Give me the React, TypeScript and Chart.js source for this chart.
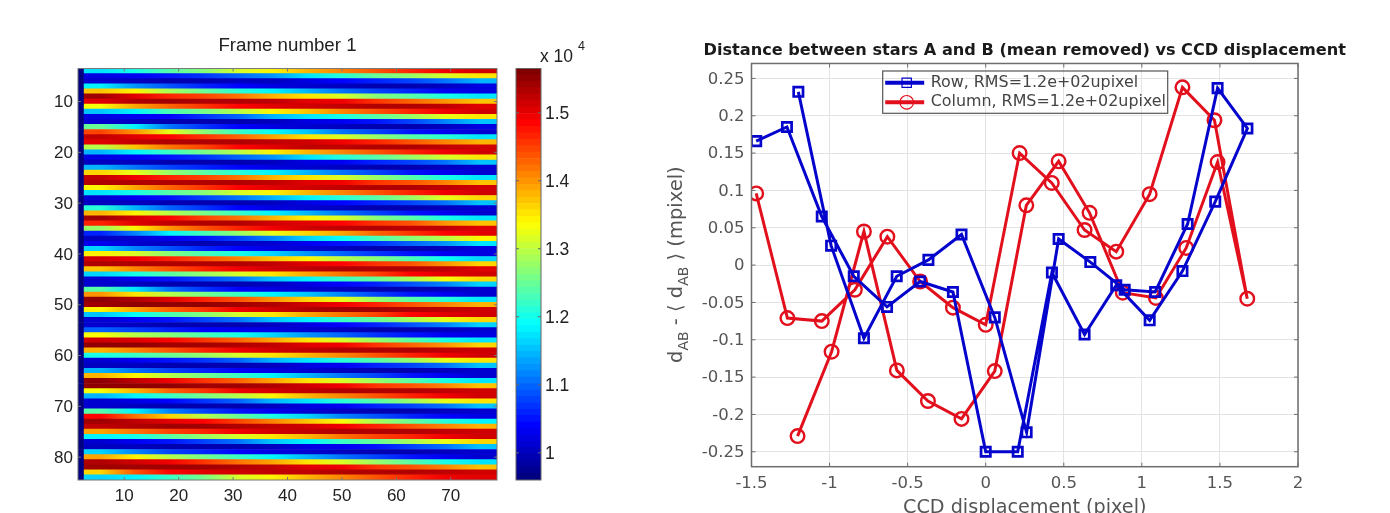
import React, { useEffect, useRef } from "react";
import { Chart, registerables } from "chart.js";
import { drawPoint } from "chart.js/helpers";

Chart.register(...registerables);

// ---------- Left panel data (values in units of 1e2, colour scale x 10^4 / 100) ----------
const edgeColumnRange = [1.5, 2.5];
const edgeColumnValue = [96];
const stripeRange = [2.5, 78.5];
const anchorColumns = [5.7, 12, 18.3, 24.7, 31, 37.3, 43.7, 50, 56.3, 62.7, 69, 75.3];
const frameRows = [
  [117,120,124,127,131,134,138,141,144,147,149,151],
  [102,103,105,107,110,113,117,121,125,128,131,135],
  [101,100,99,99,100,100,102,104,106,108,111,114],
  [118,113,109,106,104,102,101,100,99,99,100,102],
  [137,134,129,125,121,118,114,111,108,106,103,102],
  [154,150,147,145,142,138,135,131,127,124,120,117],
  [150,153,154,153,153,152,150,149,146,143,140,137],
  [133,139,143,146,148,150,151,152,153,153,152,150],
  [115,118,123,126,130,134,137,141,144,147,149,151],
  [102,103,104,107,110,114,117,120,124,128,132,135],
  [101,100,99,99,99,100,102,103,105,108,112,115],
  [125,118,111,107,104,102,101,100,99,99,100,102],
  [145,140,132,127,122,119,115,111,108,105,103,101],
  [152,150,148,146,143,139,135,131,128,124,121,117],
  [150,152,153,153,153,152,151,149,147,144,141,138],
  [130,137,142,145,148,150,152,152,153,153,152,151],
  [114,118,122,126,130,134,138,141,144,147,149,151],
  [102,103,105,107,110,113,117,121,124,128,131,135],
  [100,100,99,99,99,100,102,103,106,108,111,115],
  [114,111,108,106,104,102,101,100,99,99,100,101],
  [136,132,128,124,121,118,114,111,108,105,103,101],
  [152,149,147,145,142,138,135,131,128,124,120,117],
  [153,153,153,153,153,152,150,149,146,144,141,137],
  [134,139,143,146,148,150,151,152,153,153,152,151],
  [117,120,124,127,131,134,138,141,144,147,149,151],
  [101,103,105,108,111,114,118,121,124,128,132,136],
  [100,100,99,99,99,100,102,104,106,108,111,115],
  [121,114,110,107,104,102,101,100,99,99,100,101],
  [138,134,130,126,122,118,114,111,108,105,103,101],
  [154,151,148,145,142,138,134,131,127,124,120,117],
  [147,150,152,153,153,151,150,148,146,144,140,137],
  [128,134,140,144,147,149,151,152,153,152,152,150],
  [106,112,118,123,128,132,136,139,143,146,148,150],
  [100,101,103,105,108,112,116,119,123,127,130,134],
  [103,101,100,99,100,101,103,105,107,110,113,117],
  [116,112,109,106,104,102,101,100,99,99,100,102],
  [134,131,127,123,120,116,113,110,107,105,103,102],
  [151,149,147,144,141,137,134,130,127,123,119,116],
  [153,153,153,153,153,152,150,148,146,144,140,136],
  [137,141,144,147,149,151,152,153,153,153,152,150],
  [116,120,124,128,131,135,139,142,145,148,150,151],
  [101,103,105,108,111,115,118,122,125,129,133,136],
  [101,100,99,99,99,100,102,104,106,109,112,116],
  [124,117,111,107,104,102,101,100,99,99,100,101],
  [140,135,130,126,122,118,115,112,108,105,103,101],
  [155,153,150,147,144,140,136,132,128,124,121,117],
  [154,155,155,155,154,153,151,149,147,144,141,138],
  [134,139,143,146,149,151,153,154,154,153,152,151],
  [115,119,123,127,131,135,139,142,145,148,150,151],
  [101,103,105,108,111,115,118,122,125,129,132,136],
  [101,100,99,99,99,100,102,104,106,109,112,116],
  [110,108,106,104,103,102,101,100,99,99,100,101],
  [133,130,127,123,120,116,113,110,107,105,103,102],
  [151,150,148,146,143,139,135,131,128,124,120,117],
  [155,155,154,154,153,152,150,149,146,143,140,136],
  [138,141,144,147,149,151,152,153,153,153,152,151],
  [120,122,125,128,131,135,138,141,144,147,149,151],
  [101,103,105,107,110,114,117,121,124,128,132,135],
  [100,100,99,99,99,100,102,103,106,108,111,115],
  [114,111,108,106,104,102,101,100,99,99,100,101],
  [138,134,130,126,122,118,114,111,108,105,103,101],
  [155,152,149,146,143,139,135,131,128,124,120,117],
  [155,155,155,154,154,153,151,149,146,144,141,137],
  [133,138,143,146,149,151,152,153,153,153,152,151],
  [114,118,122,126,130,134,138,141,144,147,149,151],
  [101,102,104,107,110,114,117,121,124,128,132,135],
  [101,100,99,99,99,100,102,103,106,108,111,115],
  [124,118,112,108,105,103,101,100,99,99,100,101],
  [148,142,136,130,125,120,116,112,109,106,104,102],
  [154,152,150,148,145,141,137,133,129,125,121,118],
  [152,153,154,154,153,152,151,149,147,144,141,138],
  [139,142,145,147,149,151,152,153,153,153,152,151],
  [118,120,124,128,131,135,138,142,145,147,149,151],
  [101,103,105,108,111,115,118,122,125,129,132,136],
  [100,100,99,99,99,100,102,103,105,108,111,115],
  [116,112,108,106,104,102,101,100,99,99,100,101],
  [139,134,130,126,122,118,114,111,108,105,103,101],
  [153,151,149,146,142,139,135,131,128,124,120,117],
  [154,154,154,154,153,152,150,149,146,144,141,137],
  [136,144,148,150,151,152,152,153,153,153,152,151],
  [116,118,122,126,131,134,138,141,144,147,149,150],
];
const firstRow = 4;
const heatXTicks = [10, 20, 30, 40, 50, 60, 70];
const heatYTicks = [10, 20, 30, 40, 50, 60, 70, 80];
const colorbarTicks = [1, 1.1, 1.2, 1.3, 1.4, 1.5];

// ---------- Right panel data ----------
const rowX = [-1.47,-1.273,-1.05,-0.845,-0.632,-0.42,-0.21,0,0.205,0.424,0.633,0.836,1.05,1.26,1.47,1.676,1.485,1.293,1.085,0.89,0.67,0.467,0.262,0.058,-0.155,-0.367,-0.57,-0.78,-0.99,-1.2];
const rowY = [0.166,0.185,0.065,-0.015,-0.056,-0.022,-0.036,-0.25,-0.25,-0.01,-0.093,-0.027,-0.074,-0.008,0.085,0.183,0.237,0.055,-0.036,-0.033,0.004,0.035,-0.224,-0.07,0.041,0.007,-0.015,-0.098,0.026,0.232];
const colX = [-1.47,-1.27,-1.05,-0.838,-0.63,-0.42,-0.21,0,0.217,0.423,0.633,0.836,1.05,1.26,1.465,1.675,1.485,1.284,1.09,0.878,0.665,0.467,0.26,0.058,-0.155,-0.37,-0.569,-0.78,-0.987,-1.205];
const colY = [0.096,-0.071,-0.075,-0.033,0.038,-0.022,-0.057,-0.08,0.15,0.11,0.047,0.018,0.095,0.238,0.194,-0.045,0.138,0.023,-0.044,-0.037,0.07,0.139,0.08,-0.142,-0.206,-0.182,-0.141,0.045,-0.116,-0.229];
const lineXTicks = [-1.5, -1, -0.5, 0, 0.5, 1, 1.5, 2];
const lineYTicks = [-0.25, -0.2, -0.15, -0.1, -0.05, 0, 0.05, 0.1, 0.15, 0.2, 0.25];
const rowLabel = "Row, RMS=1.2e+02upixel";
const colLabel = "Column, RMS=1.2e+02upixel";

// ---------- Colour map (MATLAB jet, 64 levels) ----------
const CMIN = 0.96;
const CMAX = 1.565;
const LEVELS = 64;
function jet(v: number): string {
  const t = Math.max(0, Math.min(LEVELS - 1, Math.floor(((v - CMIN) / (CMAX - CMIN)) * LEVELS))) / (LEVELS - 1);
  const ch = (c: number) => Math.round(255 * Math.max(0, Math.min(1, 1.5 - Math.abs(4 * t - c))));
  return `rgb(${ch(3)},${ch(2)},${ch(1)})`;
}

const SANS = "'Liberation Sans', Arial, sans-serif";
const DEJA = "'DejaVu Sans', sans-serif";
const BLUE = "#0404cc";
const RED = "#e2101c";
const BLUE_STYLE = { pointStyle: "rect", rotation: 0, radius: 6.6, borderWidth: 2.7 };
const RED_STYLE = { pointStyle: "circle", rotation: 0, radius: 6.8, borderWidth: 2.4 };

function pos(n: number) {
  return { position: "absolute" as const, left: n, top: 0, filter: "blur(0.55px)" };
}

const frame = (xs: number[], ys: number[], yIndex: (v: number) => number, len: number, color: string, lw: number) => ({
  id: "frame",
  afterDraw(chart: any) {
    const { ctx, chartArea: a, scales } = chart;
    ctx.save();
    ctx.strokeStyle = color;
    ctx.lineWidth = lw;
    ctx.strokeRect(a.left, a.top, a.right - a.left, a.bottom - a.top);
    ctx.lineWidth = 1;
    ctx.beginPath();
    const xScale = scales.x;
    const yScale = scales.y;
    xs.forEach((v) => {
      const p = xScale.getPixelForValue(v);
      ctx.moveTo(p, a.top); ctx.lineTo(p, a.top + len);
      ctx.moveTo(p, a.bottom); ctx.lineTo(p, a.bottom - len);
    });
    ys.forEach((v) => {
      const p = yScale.getPixelForValue(yIndex(v));
      ctx.moveTo(a.left, p); ctx.lineTo(a.left + len, p);
      ctx.moveTo(a.right, p); ctx.lineTo(a.right - len, p);
    });
    ctx.stroke();
    ctx.restore();
  },
});

// Centre a chart title over the plot area; the box stays wide enough for the text.
const centreTitle = {
  id: "centreTitle",
  afterLayout(chart: any) {
    const cx = (chart.chartArea.left + chart.chartArea.right) / 2;
    chart.titleBlock.left = cx - 350;
    chart.titleBlock.right = cx + 350;
  },
};

const multiplier = {
  id: "multiplier",
  afterDraw(chart: any) {
    const { ctx } = chart;
    ctx.save();
    ctx.fillStyle = "#222";
    ctx.textBaseline = "middle";
    ctx.font = `17.5px ${SANS}`;
    ctx.fillText("x 10", 40, 57.5);
    ctx.font = `12.5px ${SANS}`;
    ctx.fillText("4", 78, 46.5);
    ctx.restore();
  },
};

const yLabel = {
  id: "yLabel",
  afterDraw(chart: any) {
    const { ctx } = chart;
    ctx.save();
    ctx.translate(17, 363);
    ctx.rotate(-Math.PI / 2);
    ctx.fillStyle = "#555";
    ctx.textBaseline = "middle";
    let p = 0;
    const seg = (s: string, sub: boolean) => {
      ctx.font = `${sub ? 14 : 19.5}px ${DEJA}`;
      ctx.fillText(s, p, sub ? 7 : 0);
      p += ctx.measureText(s).width;
    };
    seg("d", false); seg("AB", true); seg(" - ", false); seg("\u27E8 ", false);
    seg("d", false); seg("AB", true); seg(" \u27E9 ", false); seg("(mpixel)", false);
    ctx.restore();
  },
};

const legendBox = {
  id: "legendBox",
  afterLayout(chart: any) {
    chart.legend.left = 223;
    chart.legend.top = 71.1;
  },
  afterDraw(chart: any) {
    const { ctx } = chart;
    ctx.save();
    ctx.fillStyle = "rgba(0,0,0,0)";
    ctx.strokeStyle = "#555";
    ctx.lineWidth = 1.2;
    ctx.strokeRect(222.7, 71, 285, 42.3);
    ctx.strokeStyle = BLUE;
    drawPoint(ctx, BLUE_STYLE as any, 246.7, 82.8);
    ctx.strokeStyle = RED;
    drawPoint(ctx, RED_STYLE as any, 246.7, 102.3);
    ctx.restore();
  },
};

export default function App() {
  const heatRef = useRef<HTMLCanvasElement>(null);
  const barRef = useRef<HTMLCanvasElement>(null);
  const lineRef = useRef<HTMLCanvasElement>(null);

  useEffect(() => {
    document.body.style.margin = "0";
    const rowIds = frameRows.map((_, i) => i + firstRow);

    const stripeFill = (c: any) => {
      const r = frameRows[c.dataIndex ?? 0];
      const xs = c.chart.scales.x;
      if (!xs || !c.chart.chartArea) return jet(r[0] / 100);
      const [lo, hi] = stripeRange;
      const g = c.chart.ctx.createLinearGradient(xs.getPixelForValue(lo), 0, xs.getPixelForValue(hi), 0);
      anchorColumns.forEach((col, i) => g.addColorStop((col - lo) / (hi - lo), jet(r[i] / 100)));
      return g;
    };

    const heat = new Chart(heatRef.current!, {
      type: "bar",
      data: {
        labels: rowIds,
        datasets: [
          {
            label: "edge column",
            data: frameRows.map(() => edgeColumnRange),
            backgroundColor: jet(edgeColumnValue[0] / 100),
            borderWidth: 0,
            grouped: false,
            barPercentage: 1,
            categoryPercentage: 1,
          },
          {
            label: "frame",
            data: frameRows.map(() => stripeRange),
            backgroundColor: stripeFill,
            borderWidth: 0,
            grouped: false,
            barPercentage: 1,
            categoryPercentage: 1,
          },
        ],
      } as any,
      options: {
        indexAxis: "y",
        responsive: false,
        animation: false,
        devicePixelRatio: 1,
        layout: { padding: { left: 0, right: 78, top: 0, bottom: 0 } },
        plugins: {
          legend: { display: false },
          tooltip: { enabled: false },
          title: {
            display: true,
            text: "Frame number 1",
            color: "#222",
            font: { family: SANS, size: 18.7, weight: "normal" },
            padding: { top: 34.8, bottom: 11.3 },
          },
        },
        scales: {
          x: {
            type: "linear",
            min: 1.5,
            max: 78.5,
            afterBuildTicks: (s: any) => { s.ticks = heatXTicks.map((value) => ({ value })); },
            afterFit: (s: any) => { s.height = 33; },
            grid: { display: false, drawTicks: false },
            border: { display: false },
            ticks: { color: "#222", padding: 6, maxRotation: 0, autoSkip: false, font: { family: SANS, size: 17 } },
          },
          y: {
            type: "category",
            afterFit: (s: any) => { s.width = 78; },
            grid: { display: false, drawTicks: false },
            border: { display: false },
            ticks: {
              color: "#222",
              padding: 5,
              labelOffset: 1,
              autoSkip: false,
              font: { family: SANS, size: 17 },
              callback: (_: any, i: number) => (heatYTicks.includes(rowIds[i]) ? String(rowIds[i]) : ""),
            },
          },
        },
      } as any,
      plugins: [frame(heatXTicks, heatYTicks, (v) => v - firstRow, 3, "#777", 1), centreTitle],
    });

    const levelEdges = Array.from({ length: LEVELS + 1 }, (_, i) => CMIN + ((CMAX - CMIN) * i) / LEVELS);
    const bar = new Chart(barRef.current!, {
      type: "bar",
      data: {
        labels: ["scale"],
        datasets: levelEdges.slice(0, -1).map((e, i) => ({
          label: `level ${i}`,
          data: [[e, levelEdges[i + 1]]],
          backgroundColor: jet((e + levelEdges[i + 1]) / 2),
          borderWidth: 0,
          grouped: false,
          barPercentage: 1,
          categoryPercentage: 1,
        })),
      } as any,
      options: {
        responsive: false,
        animation: false,
        devicePixelRatio: 1,
        layout: { padding: { left: 16, right: 0, top: 68.5, bottom: 33 } },
        plugins: { legend: { display: false }, tooltip: { enabled: false } },
        scales: {
          x: { display: false },
          y: {
            type: "linear",
            position: "right",
            min: CMIN,
            max: CMAX,
            afterBuildTicks: (s: any) => { s.ticks = colorbarTicks.map((value) => ({ value })); },
            afterFit: (s: any) => { s.width = 59; },
            grid: { display: false, drawTicks: false },
            border: { display: false },
            ticks: { color: "#222", padding: 4, labelOffset: 1.5, font: { family: SANS, size: 17.5 }, callback: (v: any) => String(v) },
          },
        },
      } as any,
      plugins: [
        {
          id: "barFrame",
          afterDraw(chart: any) {
            const { ctx, chartArea: a, scales } = chart;
            ctx.save();
            ctx.strokeStyle = "#666";
            ctx.lineWidth = 1;
            ctx.strokeRect(a.left, a.top, a.right - a.left, a.bottom - a.top);
            ctx.beginPath();
            colorbarTicks.forEach((v) => {
              const p = scales.y.getPixelForValue(v);
              ctx.moveTo(a.left, p); ctx.lineTo(a.left + 3, p);
              ctx.moveTo(a.right, p); ctx.lineTo(a.right - 3, p);
            });
            ctx.stroke();
            ctx.restore();
          },
        },
        multiplier,
      ],
    });

    const line = new Chart(lineRef.current!, {
      type: "scatter",
      data: {
        datasets: [
          {
            label: rowLabel,
            data: rowX.map((x, i) => ({ x, y: rowY[i] })),
            showLine: true,
            borderColor: BLUE,
            backgroundColor: BLUE,
            borderWidth: 3,
            pointStyle: BLUE_STYLE.pointStyle,
            pointRadius: BLUE_STYLE.radius,
            pointBorderWidth: BLUE_STYLE.borderWidth,
            pointBorderColor: BLUE,
            pointBackgroundColor: "rgba(0,0,0,0)",
          },
          {
            label: colLabel,
            data: colX.map((x, i) => ({ x, y: colY[i] })),
            showLine: true,
            borderColor: RED,
            backgroundColor: RED,
            borderWidth: 3,
            pointStyle: RED_STYLE.pointStyle,
            pointRadius: RED_STYLE.radius,
            pointBorderWidth: RED_STYLE.borderWidth,
            pointBorderColor: RED,
            pointBackgroundColor: "rgba(0,0,0,0)",
          },
        ],
      } as any,
      options: {
        responsive: false,
        animation: false,
        devicePixelRatio: 1,
        layout: { padding: { left: 0, right: 92, top: 0, bottom: 0 } },
        plugins: {
          tooltip: { enabled: false },
          legend: {
            display: true,
            position: "chartArea",
            align: "start",
            maxHeight: 44,
            labels: {
              color: "#444",
              boxWidth: 36,
              boxHeight: 1,
              padding: 3.7,
              font: { family: DEJA, size: 15.9 },
            },
          },
          title: {
            display: true,
            text: "Distance between stars A and B (mean removed) vs CCD displacement",
            color: "#1a1a1a",
            font: { family: DEJA, size: 16.15, weight: "bold" },
            padding: { top: 41.3, bottom: 2.8 },
          },
        },
        scales: {
          x: {
            type: "linear",
            min: -1.5,
            max: 2,
            afterBuildTicks: (s: any) => { s.ticks = lineXTicks.map((value) => ({ value })); },
            afterFit: (s: any) => { s.height = 46.3; },
            grid: { color: "#e3e3e3", drawTicks: false },
            border: { display: false },
            title: {
              display: true,
              text: "CCD displacement (pixel)",
              color: "#555",
              font: { family: DEJA, size: 19.2 },
              padding: { top: 0, bottom: -7 },
            },
            ticks: { color: "#555", padding: 7, maxRotation: 0, autoSkip: false, font: { family: DEJA, size: 16.5 }, callback: (v: any) => String(v) },
          },
          y: {
            type: "linear",
            min: -0.27,
            max: 0.27,
            afterBuildTicks: (s: any) => { s.ticks = lineYTicks.map((value) => ({ value })); },
            afterFit: (s: any) => { s.width = 91.5; },
            grid: { color: "#e3e3e3", drawTicks: false },
            border: { display: false },
            ticks: { color: "#555", padding: 7, labelOffset: 1, autoSkip: false, font: { family: DEJA, size: 16.5 }, callback: (v: any) => String(v) },
          },
        },
      } as any,
      plugins: [frame(lineXTicks, lineYTicks, (v) => v, 4, "#6e6e6e", 1.5), legendBox, yLabel, centreTitle],
    });

    return () => { heat.destroy(); bar.destroy(); line.destroy(); };
  }, []);

  return (
    <div style={{ position: "absolute", left: 0, top: 0, width: 1390, height: 513, overflow: "hidden", background: "#fff" }}>
      <canvas ref={heatRef} width={575} height={513} style={pos(0)} />
      <canvas ref={barRef} width={100} height={513} style={pos(500)} />
      <canvas ref={lineRef} width={730} height={513} style={pos(660)} />
    </div>
  );
}
